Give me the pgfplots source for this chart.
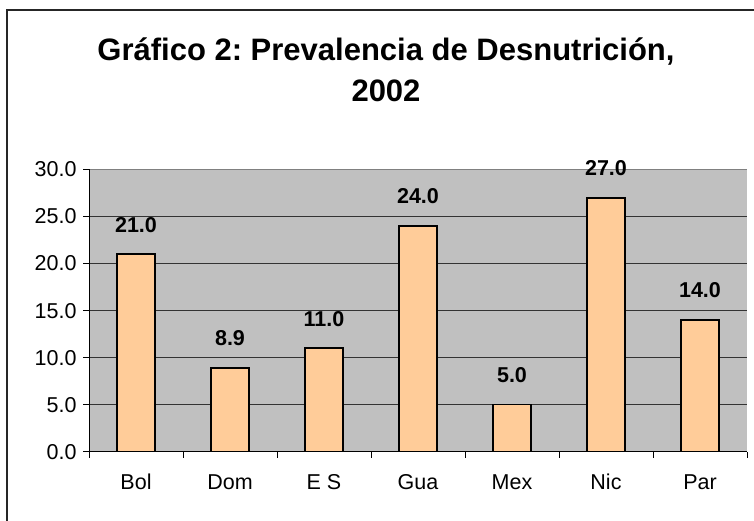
\documentclass[border=0pt]{standalone}
\usepackage{fontspec}
\setmainfont{Liberation Sans}
\usepackage{pgfplots}
\pgfplotsset{compat=1.18}
\definecolor{plotgray}{HTML}{C0C0C0}
\definecolor{barfill}{HTML}{FFCC99}
\definecolor{bordergray}{HTML}{808080}
\frenchspacing
\begin{document}
\begin{tikzpicture}
\useasboundingbox (0,0) rectangle (754bp,521bp);
\draw[line width=1.6bp, black!85] (7bp,0) -- (7bp,511bp) -- (760bp,511bp);
\node[anchor=base, font=\fontsize{31bp}{41bp}\selectfont\bfseries] at (386bp,460.3bp) {Gráfico 2:\ Prevalencia de Desnutrición,};
\node[anchor=base, font=\fontsize{31bp}{41bp}\selectfont\bfseries] at (386bp,419.3bp) {2002};
\begin{axis}[
  at={(89bp,69.3bp)}, anchor=south west,
  scale only axis, width=658bp, height=282.2bp,
  ybar, bar width=0.41,
  xmin=-0.5, xmax=6.5, ymin=0, ymax=30,
  xtick={0,...,6},
  xticklabels={Bol,Dom,E S,Gua,Mex,Nic,Par},
  minor xtick={-0.5,0.5,...,6.5},
  major x tick style={draw=none},
  ytick={0,5,...,30},
  tick align=outside,
  major tick length=6bp, minor tick length=6bp,
  tick style={black, line width=0.8bp},
  xtick pos=bottom, ytick pos=left,
  ymajorgrids, grid style={black!80, line width=0.8bp},
  axis line style={draw=none},
  axis background/.style={fill=plotgray},
  ticklabel style={font=\fontsize{21.5bp}{25bp}\selectfont},
  yticklabel style={xshift=-3bp, /pgf/number format/.cd, fixed, fixed zerofill, precision=1, assume math mode=true},
  xticklabel style={anchor=base, inner sep=0pt, yshift=-32bp},
  nodes near coords={\pgfmathprintnumber[fixed,fixed zerofill,precision=1,assume math mode=true]{\pgfplotspointmeta}},
  every node near coord/.append style={font=\fontsize{21.5bp}{25bp}\selectfont\bfseries, inner sep=0pt, yshift=21bp},
]
\addplot[fill=barfill, draw=black, line width=1.6bp] coordinates {
(0,21.0) (1,8.9) (2,11.0) (3,24.0) (4,5.0) (5,27.0) (6,14.0)};
\draw[bordergray, line width=0.8bp] (rel axis cs:0,1) -- (rel axis cs:1,1) -- (rel axis cs:1,0);
\draw[black, line width=0.8bp] (rel axis cs:0,1) -- (rel axis cs:0,0) -- (rel axis cs:1,0);
\end{axis}
\end{tikzpicture}
\end{document}
